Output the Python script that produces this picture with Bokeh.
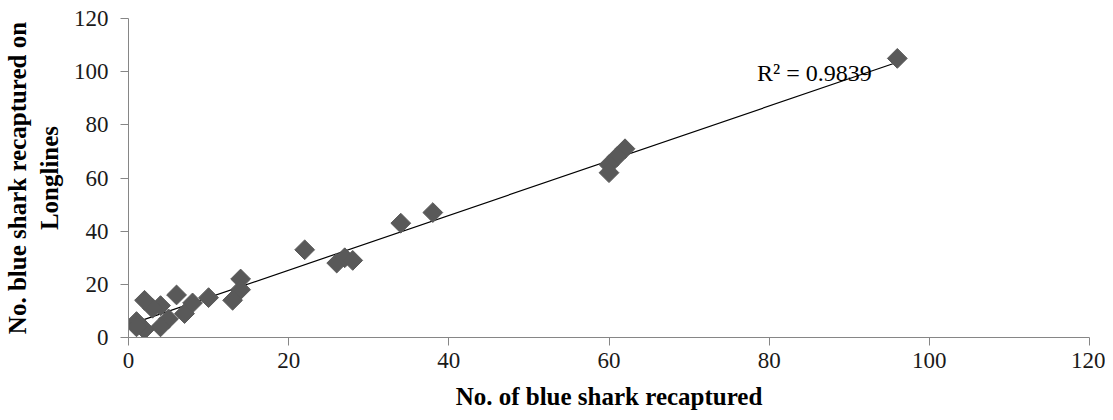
import numpy as np
from bokeh.plotting import figure
from bokeh.models import Range1d, FixedTicker, Label
from bokeh.embed import file_html
from bokeh.resources import INLINE

# Data
recaptured = [96, 62, 61, 60, 60, 38, 34, 22, 26, 27, 28, 14, 14, 13, 10, 8, 7, 6, 5, 4, 4, 3, 2, 2, 1, 1]
longlines = [105, 71, 68, 65, 62, 47, 43, 33, 28, 30, 29, 22, 18, 14, 15, 13, 9, 16, 7, 12, 4, 11, 14, 3, 6, 4]
x_ticks = [0, 20, 40, 60, 80, 100, 120]
y_ticks = [0, 20, 40, 60, 80, 100, 120]
r2_text = "R² = 0.9839"

p = figure(width=1105, height=412, output_backend="svg", toolbar_location=None,
           x_range=Range1d(0, 120), y_range=Range1d(0, 120),
           min_border_left=128, min_border_right=16, min_border_top=18, min_border_bottom=74)
p.outline_line_color = None
p.grid.grid_line_color = None

# trend line (least squares over data range)
xs = np.array(recaptured, dtype=float)
ys = np.array(longlines, dtype=float)
m, b = np.polyfit(xs, ys, 1)
xl = np.array([xs.min(), xs.max()])
p.line(xl, m * xl + b, line_color="#000000", line_width=1.2)

p.scatter(recaptured, longlines, marker="square", size=14, angle=np.pi / 4,
          fill_color="#595959", line_color="#595959")

p.add_layout(Label(x=92.8, y=99.5, text=r2_text, text_font="Liberation Serif",
                   text_font_size="24px", text_color="#000000", text_align="right",
                   text_baseline="alphabetic"))

font = "Liberation Serif"
for ax, ticks in ((p.xaxis, x_ticks), (p.yaxis, y_ticks)):
    ax.ticker = FixedTicker(ticks=ticks)
    ax.axis_line_color = "#868686"
    ax.major_tick_line_color = "#868686"
    ax.major_tick_out = 8
    ax.major_tick_in = 0
    ax.minor_tick_line_color = None
    ax.major_label_text_font = font
    ax.major_label_text_font_size = "23px"
    ax.major_label_text_color = "#1a1a1a"
    ax.axis_label_text_font = font
    ax.axis_label_text_font_size = "25px"
    ax.axis_label_text_font_style = "bold"
    ax.axis_label_text_color = "#000000"

p.xaxis.axis_label = "No. of blue shark recaptured"
p.xaxis.major_label_standoff = 7
p.xaxis.axis_label_standoff = 12
p.yaxis.axis_label = "No. blue shark recaptured on\nLonglines"
p.yaxis.major_label_standoff = 12
p.yaxis.axis_label_standoff = 8

open("out.html", "w").write(file_html(p, INLINE))
